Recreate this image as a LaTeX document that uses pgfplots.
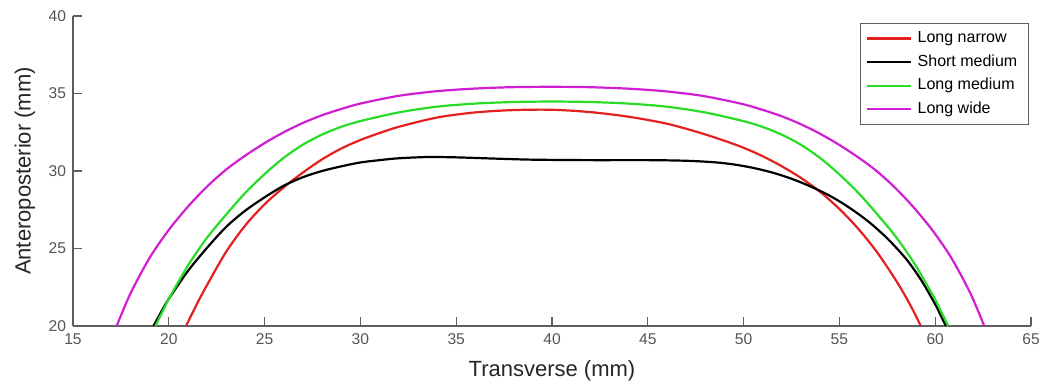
\documentclass[border=0pt]{standalone}
\usepackage{fontspec}
\setmainfont{Liberation Sans}
\usepackage{pgfplots}
\pgfplotsset{compat=1.18}
\definecolor{cRed}{RGB}{228,32,32}
\definecolor{cGreen}{RGB}{40,220,40}
\definecolor{cMag}{RGB}{210,30,210}
\definecolor{axgray}{RGB}{95,95,95}
\definecolor{lblgray}{RGB}{85,85,85}
\begin{document}
\begin{tikzpicture}
\begin{axis}[
  scale only axis,
  width=479pt, height=155pt,
  xmin=15, xmax=65, ymin=20, ymax=40,
  axis x line=bottom, axis y line=left,
  axis line style={-, axgray, line width=0.6pt},
  xtick={15,20,...,65}, ytick={20,25,...,40},
  tick align=inside, major tick length=4.5pt,
  tick style={axgray, line width=0.6pt},
  /pgf/number format/assume math mode=true,
  ticklabel style={font=\fontsize{7.8}{9}\selectfont, text=lblgray},
  xticklabel style={yshift=-0.5pt},
  xlabel={Transverse (mm)}, ylabel={Anteroposterior (mm)},
  label style={font=\fontsize{11}{13}\selectfont, text=black!85},
  xlabel style={at={(axis description cs:0.5,-0.1635)}, anchor=base},
  ylabel style={at={(axis description cs:-0.0501,0.5)}, anchor=center},
  legend style={at={(axis description cs:0.998,0.977)}, anchor=north east,
    draw=axgray, line width=0.6pt, font=\fontsize{8}{9}\selectfont,
    inner xsep=3pt, inner ysep=1.5pt, row sep=0pt,
    nodes={text height=6pt, text depth=2pt, inner ysep=1.9pt, inner xsep=2.6pt}},
  legend cell align=left,
  legend image code/.code={\draw[#1, line width=1.1pt] (0pt,0pt) -- (22pt,0pt);},
  every axis plot/.append style={line width=1.1pt, smooth, tension=0.5},
]
% Long narrow
\addplot[cRed] coordinates {
(20.9,20) (21.5,21.5) (22,22.65) (23,24.8) (24,26.5) (25,27.85) (26,28.95)
(27,29.9) (28,30.75) (29,31.45) (30,32.0) (31,32.45) (32,32.85) (34,33.45)
(36,33.78) (38,33.93) (40,33.95) (42,33.8) (44,33.5) (46,33.05) (47.76,32.45)
(49,31.95) (50,31.5) (51,30.95) (52,30.3) (53,29.55) (54,28.65) (55,27.55)
(56,26.25) (57,24.7) (58,22.85) (58.7,21.35) (59.25,20)};
\addlegendentry{Long narrow}
% Short medium
\addplot[black] coordinates {
(19.2,20) (19.6,20.9) (20,21.75) (21,23.55) (22,25.05) (23,26.4) (24,27.45)
(25,28.3) (26,29.05) (27,29.6) (28,30.0) (29,30.3) (30,30.55) (31,30.7)
(32,30.82) (33.5,30.9) (35,30.88) (37,30.8) (39,30.73) (42,30.7) (45,30.7)
(47,30.66) (48.5,30.56) (49.5,30.42) (50.5,30.2) (51.5,29.9) (52.5,29.5)
(53.5,29.0) (54.5,28.4) (55.5,27.65) (56.5,26.75) (57.5,25.65) (58.5,24.3)
(59.3,22.9) (60,21.4) (60.3,20.65) (60.56,20)};
\addlegendentry{Short medium}
% Long medium
\addplot[cGreen] coordinates {
(19.3,20) (19.7,21.0) (20,21.75) (21,23.9) (22,25.7) (23,27.2) (24,28.6)
(25,29.8) (26,30.85) (27,31.7) (28,32.35) (29,32.85) (30,33.22) (32,33.78)
(34,34.15) (36,34.35) (38,34.45) (40,34.48) (41.98,34.45) (43.98,34.35)
(45.98,34.15) (47.98,33.78) (49.98,33.22) (50.98,32.85) (51.98,32.35)
(52.98,31.7) (53.98,30.85) (54.98,29.8) (55.98,28.6) (56.98,27.2)
(57.98,25.7) (58.98,23.9) (59.98,21.75) (60.28,21.0) (60.68,20)};
\addlegendentry{Long medium}
% Long wide
\addplot[cMag] coordinates {
(17.28,20) (18,22.1) (19,24.4) (20,26.2) (21,27.7) (22,29.0) (23,30.1)
(24,31.0) (25,31.8) (26,32.5) (27,33.1) (28,33.6) (29,34.0) (30,34.35)
(32,34.85) (34,35.15) (36,35.32) (38,35.41) (39.92,35.43) (41.84,35.41)
(43.84,35.32) (45.84,35.15) (47.84,34.85) (49.84,34.35) (50.84,34.0)
(51.84,33.6) (52.84,33.1) (53.84,32.5) (54.84,31.8) (55.84,31.0)
(56.84,30.1) (57.84,29.0) (58.84,27.7) (59.84,26.2) (60.84,24.4)
(61.84,22.1) (62.56,20)};
\addlegendentry{Long wide}
\end{axis}
\pgfresetboundingbox
\useasboundingbox ([shift={(-36.5pt,-28.5pt)}]current axis.south west) rectangle ([shift={(6pt,8pt)}]current axis.north east);
\end{tikzpicture}
\end{document}
